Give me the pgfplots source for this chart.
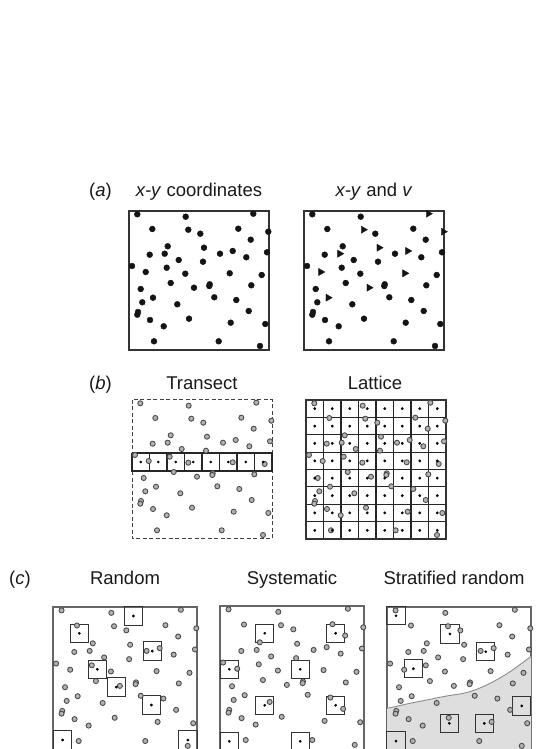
\documentclass[border=0pt]{standalone}
\usepackage{pgfplots}
\pgfplotsset{compat=1.18}
\usepackage{pgfplotstable}
\usepackage{fontspec}
\setmainfont{Liberation Sans}

% point pattern (same in all panels), x right, y downward
\pgfplotstableread{
x y
8.3 3.3
56.7 5.7
23.3 18
71.3 22.7
109.3 17.7
121.7 28.7
38.7 35.3
20.7 43.7
91 42.7
138 41.3
117.3 46.3
49.7 49
74 50.7
3 55
37.7 56.7
56.3 62.7
132.7 64
41.7 72
80.7 73.3
80.3 75
122.3 74.3
11.7 78
85.3 86.3
107.3 89
13.3 91.3
48.3 93.3
119.7 100
9 101
8.3 103.7
21 109
60 107.7
101.7 111.7
136.3 113
34.7 115.3
25 130.3
89.7 130.3
131 135
}\dotpts
\pgfplotstableread{
x y
124.3 2.7
59.3 18.7
139.3 20.7
75 36.7
35.7 42.7
103.7 40
16.7 61
100.7 62.3
65 76.7
24 86.7
}\tripts

\definecolor{ptfill}{gray}{0.70}
\definecolor{ptline}{gray}{0.28}

\pgfplotsset{
 panel/.style={scale only axis, clip=false, y dir=reverse,
   xmin=0, xmax=140, ymin=0, ymax=139, width=140pt, height=139pt,
   xtick=\empty, ytick=\empty, anchor=north west,
   axis line style={black!80, line width=1.1pt}},
 cpanel/.style={panel, xmax=140, ymax=143, width=144pt, height=147.1pt,
   clip=true, clip mode=individual,
   axis line style={black!60, line width=1.1pt}},
 blackdot/.style={only marks, mark=*, mark size=2.95pt,
   mark options={fill=black!92, draw=black!92}},
 tri/.style={only marks, mark=triangle*, mark size=4.1pt,
   mark options={rotate=-90, fill=black!92, draw=black!92}},
 graydot/.style={only marks, mark=*, mark size=2.55pt,
   mark options={fill=ptfill, draw=ptline, line width=0.85pt}},
 cdot/.style={only marks, mark=*, mark size=1.2pt,
   mark options={fill=black, draw=black}},
 quad/.style={only marks, mark=square, mark size=9.1pt,
   mark options={draw=black!80, line width=1.1pt}},
}

\begin{document}
\begin{tikzpicture}
\path[use as bounding box] (0pt,0pt) rectangle (537pt,749pt);

% ---------- (a) ----------
\begin{axis}[panel, at={(129pt,538pt)}]
\addplot[blackdot] table[x=x,y=y] {\dotpts};
\addplot[blackdot] table[x=x,y=y] {\tripts};
\end{axis}
\begin{axis}[panel, at={(304pt,538pt)}]
\addplot[blackdot] table[x=x,y=y] {\dotpts};
\addplot[tri] table[x=x,y=y] {\tripts};
\end{axis}

% ---------- (b) Transect ----------
\begin{axis}[panel, at={(132pt,349pt)},
  axis line style={black!75, line width=1pt, dash pattern=on 4pt off 2.5pt}]
\addplot[black!85, line width=1.1pt, mark=none] coordinates {(0,53) (140,53) (140,71) (0,71) (0,53)};
\pgfplotsinvokeforeach{17.5,35,52.5,70,87.5,105,122.5}{
  \addplot[black!85, line width=1.1pt, mark=none] coordinates {(#1,53) (#1,71)};
}
\addplot[graydot] table[x=x,y=y] {\dotpts};
\addplot[graydot] table[x=x,y=y] {\tripts};
\addplot[cdot] coordinates {(8.75,62) (26.25,62) (43.75,62) (61.25,62)
  (78.75,62) (96.25,62) (113.75,62) (131.25,62)};
\end{axis}

% ---------- (b) Lattice ----------
\begin{axis}[panel, at={(306pt,349pt)},
  xtick={17.5,35,52.5,70,87.5,105,122.5},
  ytick={17.375,34.75,52.125,69.5,86.875,104.25,121.625},
  xticklabels={}, yticklabels={}, major tick length=0pt,
  grid=major, major grid style={black!85, line width=1.05pt}]
\addplot[graydot] table[x=x,y=y] {\dotpts};
\addplot[graydot] table[x=x,y=y] {\tripts};
\addplot[cdot] coordinates {
 (8.75,8.7) (26.25,8.7) (43.75,8.7) (61.25,8.7) (78.75,8.7) (96.25,8.7) (113.75,8.7) (131.25,8.7)
 (8.75,26.1) (26.25,26.1) (43.75,26.1) (61.25,26.1) (78.75,26.1) (96.25,26.1) (113.75,26.1) (131.25,26.1)
 (8.75,43.4) (26.25,43.4) (43.75,43.4) (61.25,43.4) (78.75,43.4) (96.25,43.4) (113.75,43.4) (131.25,43.4)
 (8.75,60.8) (26.25,60.8) (43.75,60.8) (61.25,60.8) (78.75,60.8) (96.25,60.8) (113.75,60.8) (131.25,60.8)
 (8.75,78.2) (26.25,78.2) (43.75,78.2) (61.25,78.2) (78.75,78.2) (96.25,78.2) (113.75,78.2) (131.25,78.2)
 (8.75,95.6) (26.25,95.6) (43.75,95.6) (61.25,95.6) (78.75,95.6) (96.25,95.6) (113.75,95.6) (131.25,95.6)
 (8.75,112.9) (26.25,112.9) (43.75,112.9) (61.25,112.9) (78.75,112.9) (96.25,112.9) (113.75,112.9) (131.25,112.9)
 (8.75,130.3) (26.25,130.3) (43.75,130.3) (61.25,130.3) (78.75,130.3) (96.25,130.3) (113.75,130.3) (131.25,130.3)};
\end{axis}

% ---------- (c) Random ----------
\begin{axis}[cpanel, at={(53pt,142pt)}]
\addplot[quad] coordinates {(78.1,8.75) (25.6,25.6) (96.5,42.8) (43.1,60.6)
  (61.5,77.8) (95.6,95.3) (9.4,129.3) (131.2,129.3)};
\addplot[graydot] table[x=x,y=y] {\dotpts};
\addplot[graydot] table[x=x,y=y] {\tripts};
\addplot[cdot] coordinates {(78.1,8.75) (25.6,25.6) (96.5,42.8) (43.1,60.6)
  (61.5,77.8) (95.6,95.3) (9.4,129.3) (131.2,129.3)};
\end{axis}

% ---------- (c) Systematic ----------
\begin{axis}[cpanel, at={(220pt,143pt)}]
\addplot[quad] coordinates {(43.5,26.5) (112.5,26.5) (9,61.5) (78,61.5)
  (43.5,96.5) (112.5,96.5) (9,131.5) (78,131.5)};
\addplot[graydot] table[x=x,y=y] {\dotpts};
\addplot[graydot] table[x=x,y=y] {\tripts};
\addplot[cdot] coordinates {(43.5,26.5) (112.5,26.5) (9,61.5) (78,61.5)
  (43.5,96.5) (112.5,96.5) (9,131.5) (78,131.5)};
\end{axis}

% ---------- (c) Stratified random ----------
\begin{axis}[cpanel, at={(387pt,142pt)}]
\addplot[draw=none, fill=black!13, smooth, tension=0.6] coordinates {
  (-12,100) (0,98.5) (22.4,93.6) (38.6,90.4) (58,86.5) (74.2,83.9) (87.2,80)
  (103.3,72.6) (119.6,62.9) (139,48.9) (152,40) (152,170) (-12,170)};
\addplot[black!45, line width=0.9pt, smooth, tension=0.6] coordinates {
  (-12,100) (0,98.5) (22.4,93.6) (38.6,90.4) (58,86.5) (74.2,83.9) (87.2,80)
  (103.3,72.6) (119.6,62.9) (139,48.9) (152,40)};
\addplot[quad] coordinates {(8.75,8.5) (61.2,26.2) (96,43.5) (25.6,60)
  (131,96.2) (60.6,113.1) (94.6,113.1) (8.75,130.3)};
\addplot[graydot] table[x=x,y=y] {\dotpts};
\addplot[graydot] table[x=x,y=y] {\tripts};
\addplot[cdot] coordinates {(8.75,8.5) (61.2,26.2) (96,43.5) (25.6,60)
  (131,96.2) (60.6,113.1) (94.6,113.1) (8.75,130.3)};
\end{axis}

% ---------- titles ----------
\begin{scope}[every node/.style={font=\fontsize{18.5}{22}\selectfont, text=black!90, inner sep=0pt}]
\node[anchor=base east] at (112pt,552pt) {(\textit{a})};
\node[anchor=base] at (199pt,552pt) {\textit{x-y} coordinates};
\node[anchor=base] at (374pt,552pt) {\textit{x-y} and \textit{v}};
\node[anchor=base east] at (112pt,359pt) {(\textit{b})};
\node[anchor=base] at (202pt,359pt) {Transect};
\node[anchor=base] at (375pt,359pt) {Lattice};
\node[anchor=base east] at (31pt,164pt) {(\textit{c})};
\node[anchor=base] at (125pt,164pt) {Random};
\node[anchor=base] at (292pt,164pt) {Systematic};
\node[anchor=base] at (454pt,164pt) {Stratified random};
\end{scope}
\end{tikzpicture}
\end{document}
